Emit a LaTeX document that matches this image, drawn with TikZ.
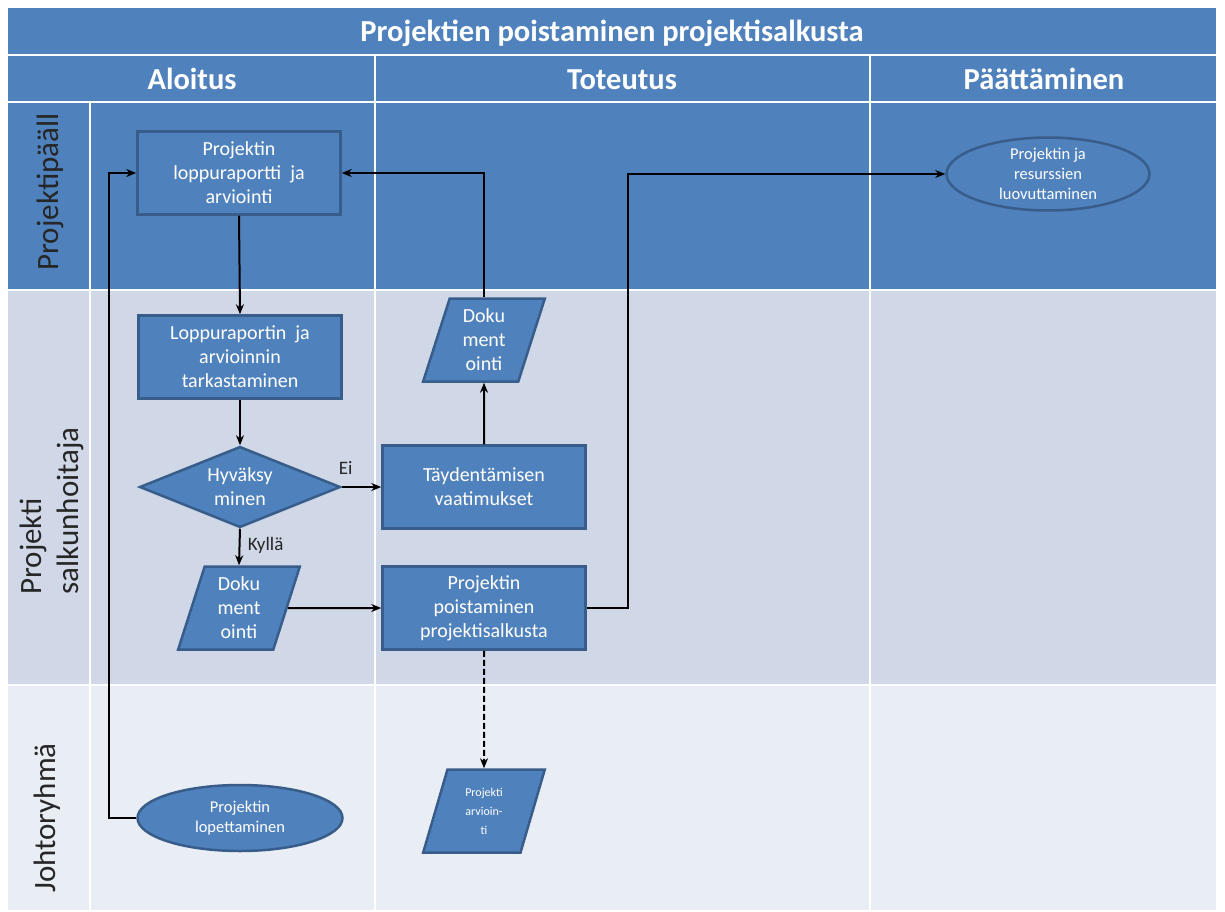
\documentclass[tikz,border=0pt]{standalone}
\usepackage{fontspec}
\setmainfont{Carlito}
\usetikzlibrary{shapes.geometric,arrows.meta}
\definecolor{hdr}{HTML}{4F81BD}
\definecolor{laneB}{HTML}{D0D8E8}
\definecolor{laneC}{HTML}{E9EDF4}
\definecolor{shbd}{HTML}{385D8A}
\tikzset{
  shapebase/.style={fill=hdr, draw=shbd, line width=2.5pt, text=white, align=center, inner sep=0pt},
  procbox/.style={shapebase, rectangle, minimum width=203pt, minimum height=83pt, font=\fontsize{20}{24}\selectfont},
  decbox/.style={shapebase, diamond, minimum width=201pt, minimum height=81pt, shape aspect=2.5, font=\fontsize{20}{24}\selectfont},
  databox/.style={shapebase, trapezium, trapezium left angle=75, trapezium right angle=105, trapezium stretches=true, minimum width=122pt, minimum height=83pt},
  termbox/.style={shapebase, ellipse, font=\fontsize{16.5}{20}\selectfont},
  arr/.style={-{Stealth[length=10pt,width=8pt]}, line width=2pt, black},
  sep/.style={white, line width=2pt},
  hdrtxt/.style={text=white, font=\fontsize{30.5}{34}\selectfont\bfseries, anchor=base, inner sep=0pt},
  lanetxt/.style={text=black!85, font=\fontsize{31}{37}\selectfont, rotate=90, align=left},
  lbl/.style={text=black!85, font=\fontsize{19}{22}\selectfont}
}
\begin{document}
\begin{tikzpicture}[x=1pt,y=-1pt]
\useasboundingbox (0,0) rectangle (1225,912);
\fill[white] (0,0) rectangle (1225,912);
% backgrounds
\fill[hdr] (8,8) rectangle (1216,290);
\fill[laneB] (8,290) rectangle (1216,685);
\fill[laneC] (8,685) rectangle (1216,910);
% separators
\draw[sep] (8,55) -- (1216,55);
\draw[sep] (8,102) -- (1216,102);
\draw[sep] (8,290) -- (1216,290);
\draw[sep] (8,685) -- (1216,685);
\draw[sep] (375,55) -- (375,910);
\draw[sep] (870,55) -- (870,910);
\draw[sep] (90,102) -- (90,910);
% header texts
\node[hdrtxt] (title) at (612,42) {Projektien poistaminen projektisalkusta};
\node[hdrtxt] (h1) at (192,90) {Aloitus};
\node[hdrtxt] (h2) at (622,90) {Toteutus};
\node[hdrtxt] (h3) at (1044,90) {Päättäminen};
% lane labels
\node[lanetxt] (l1) at (50,192) {Projektipääll};
\node[lanetxt] (l2) at (52,511) {Projekti\\salkunhoitaja};
\node[lanetxt] (l3) at (47,818) {Johtoryhmä};
% nodes
\node[procbox] (A) at (239,173) {Projektin\\loppuraportti\ \ ja\\arviointi};
\node[procbox] (B) at (240,357) {Loppuraportin\ \ ja\\arvioinnin\\tarkastaminen};
\node[decbox] (C) at (240,487) {Hyväksy\\minen};
\node[databox, font=\fontsize{20}{24}\selectfont] (D) at (239,608) {Doku\\ment\\ointi};
\node[procbox] (E) at (484,487) {Täydentämisen\\vaatimukset};
\node[databox, font=\fontsize{20}{24}\selectfont] (F) at (484,340) {Doku\\ment\\ointi};
\node[procbox] (G) at (484,608) {Projektin\\poistaminen\\projektisalkusta};
\node[databox, font=\fontsize{12}{19}\selectfont] (H) at (484,811) {Projekti\\arvioin-\\ti};
\node[termbox, minimum width=205pt, minimum height=66pt] (I) at (240,818) {Projektin\\lopettaminen};
\node[termbox, minimum width=203pt, minimum height=69pt] (J) at (1048,174) {Projektin ja\\resurssien\\luovuttaminen};
% connectors
\draw[arr] (A.south) -- (B.north);
\draw[arr] (B.south) -- (C.north);
\draw[arr] (C.east) -- node[lbl, above, pos=0.1, yshift=8pt] (ei) {Ei} (E.west);
\draw[arr] (C.south) -- node[lbl, right, pos=0.45, xshift=4pt] (kylla) {Kyllä} (D.north);
\draw[arr] (D.east) -- (G.west);
\draw[arr] (E.north) -- (F.south);
\draw[arr] (F.north) |- (A.east);
\draw[arr] (G.east) -- ++(41,0) |- (J.west);
\draw[arr, dashed, dash pattern=on 6pt off 3pt] (G.south) -- (H.north);
\draw[arr] (I.west) -- ++(-27,0) |- (A.west);
\end{tikzpicture}
\end{document}
